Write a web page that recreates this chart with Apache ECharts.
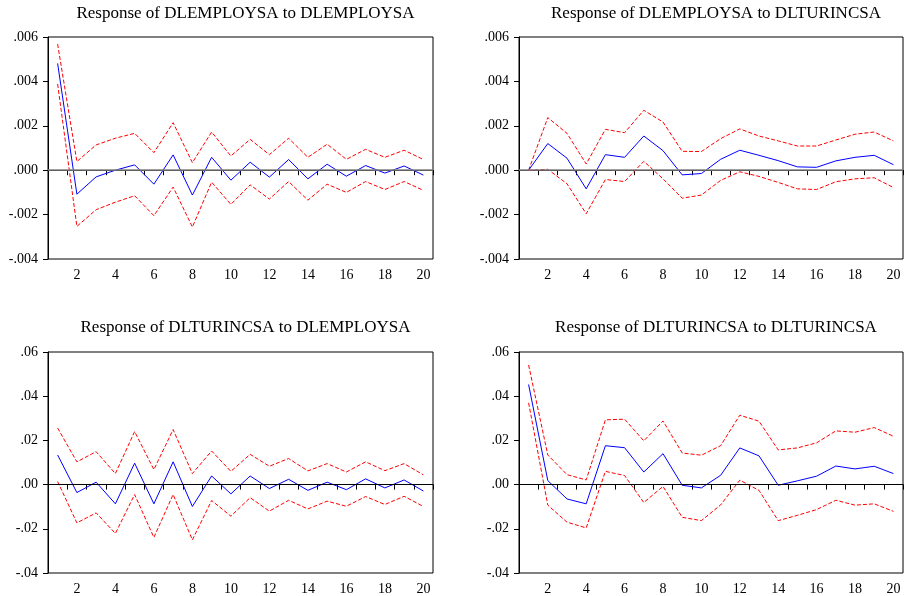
<!DOCTYPE html>
<html><head><meta charset="utf-8">
<script src="https://cdn.jsdelivr.net/npm/echarts@6/dist/echarts.min.js"></script>
<style>html,body{margin:0;padding:0;background:#fff}#c{width:905px;height:596px}</style>
</head><body><div id="c"></div>
<script>
const periods = ['1','2','3','4','5','6','7','8','9','10','11','12','13','14','15','16','17','18','19','20'];
const titles = ['Response of DLEMPLOYSA to DLEMPLOYSA','Response of DLEMPLOYSA to DLTURINCSA','Response of DLTURINCSA to DLEMPLOYSA','Response of DLTURINCSA to DLTURINCSA'];

// Panel 1: DLEMPLOYSA to DLEMPLOYSA
const p1Resp  = [0.00481,-0.00108,-0.00030,0.00000,0.00024,-0.00063,0.00069,-0.00112,0.00058,-0.00045,0.00036,-0.00031,0.00048,-0.00039,0.00027,-0.00027,0.00021,-0.00013,0.00019,-0.00022];
const p1Upper = [0.00568,0.00039,0.00114,0.00144,0.00166,0.00079,0.00214,0.00034,0.00172,0.00064,0.00139,0.00070,0.00144,0.00058,0.00117,0.00049,0.00094,0.00058,0.00090,0.00048];
const p1Lower = [0.00388,-0.00253,-0.00178,-0.00144,-0.00115,-0.00205,-0.00076,-0.00256,-0.00054,-0.00154,-0.00066,-0.00130,-0.00051,-0.00135,-0.00063,-0.00100,-0.00051,-0.00087,-0.00051,-0.00091];

// Panel 2: DLEMPLOYSA to DLTURINCSA
const p2Resp  = [0.00000,0.00120,0.00054,-0.00084,0.00070,0.00058,0.00154,0.00088,-0.00021,-0.00015,0.00049,0.00090,0.00067,0.00043,0.00015,0.00013,0.00042,0.00058,0.00067,0.00025];
const p2Upper = [0.00000,0.00237,0.00166,0.00028,0.00184,0.00169,0.00270,0.00217,0.00085,0.00084,0.00142,0.00186,0.00154,0.00132,0.00109,0.00109,0.00136,0.00162,0.00172,0.00132];
const p2Lower = [0.00000,0.00004,-0.00061,-0.00196,-0.00042,-0.00051,0.00040,-0.00039,-0.00126,-0.00112,-0.00046,-0.00007,-0.00028,-0.00055,-0.00084,-0.00087,-0.00052,-0.00039,-0.00034,-0.00078];

// Panel 3: DLTURINCSA to DLEMPLOYSA
const p3Resp  = [0.0134,-0.0036,0.0011,-0.0087,0.0097,-0.0087,0.0103,-0.0099,0.0039,-0.0042,0.0039,-0.0018,0.0024,-0.0026,0.0011,-0.0023,0.0026,-0.0015,0.0021,-0.0029];
const p3Upper = [0.0256,0.0103,0.0149,0.0050,0.0240,0.0068,0.0249,0.0050,0.0152,0.0060,0.0137,0.0083,0.0118,0.0062,0.0095,0.0057,0.0103,0.0063,0.0095,0.0044];
const p3Lower = [0.0014,-0.0173,-0.0128,-0.0221,-0.0045,-0.0239,-0.0045,-0.0250,-0.0072,-0.0143,-0.0059,-0.0120,-0.0071,-0.0110,-0.0075,-0.0098,-0.0054,-0.0090,-0.0053,-0.0099];

// Panel 4: DLTURINCSA to DLTURINCSA
const p4Resp  = [0.0453,0.0018,-0.0065,-0.0087,0.0176,0.0167,0.0057,0.0140,-0.0003,-0.0015,0.0042,0.0166,0.0130,-0.0003,0.0017,0.0038,0.0084,0.0071,0.0083,0.0050];
const p4Upper = [0.0541,0.0134,0.0045,0.0021,0.0293,0.0296,0.0198,0.0288,0.0143,0.0133,0.0176,0.0314,0.0287,0.0157,0.0166,0.0189,0.0243,0.0237,0.0258,0.0219];
const p4Lower = [0.0370,-0.0093,-0.0170,-0.0196,0.0060,0.0041,-0.0081,-0.0008,-0.0148,-0.0163,-0.0092,0.0020,-0.0026,-0.0163,-0.0139,-0.0113,-0.0071,-0.0093,-0.0087,-0.0121];

const panels = [
  {resp:p1Resp, up:p1Upper, lo:p1Lower, min:-0.004, max:0.006, step:0.002, dec:3, zero:'#808080', zw:1.5},
  {resp:p2Resp, up:p2Upper, lo:p2Lower, min:-0.004, max:0.006, step:0.002, dec:3, zero:'#808080', zw:1.5},
  {resp:p3Resp, up:p3Upper, lo:p3Lower, min:-0.04, max:0.06, step:0.02, dec:2, zero:'#000000', zw:1},
  {resp:p4Resp, up:p4Upper, lo:p4Lower, min:-0.04, max:0.06, step:0.02, dec:2, zero:'#000000', zw:1}
];
const grids = [
  {left:48, top:37, width:385, height:222},
  {left:519, top:37, width:384, height:222},
  {left:48, top:352, width:385, height:221},
  {left:519, top:352, width:384, height:221}
];
const titleY = [0, 314];
const FONT = '"Liberation Serif", "Times New Roman", serif';

const option = {
  animation:false,
  backgroundColor:'#ffffff',
  title: titles.map((t,i)=>({
    text:t,
    left: grids[i].left + grids[i].width/2,
    top: titleY[Math.floor(i/2)],
    textAlign:'center',
    textStyle:{fontFamily:FONT, fontSize:17, fontWeight:'normal', color:'#000'}
  })),
  grid: grids.map(g=>Object.assign({show:true, borderColor:'#000', borderWidth:1, backgroundColor:'transparent'}, g)),
  xAxis: grids.map((g,i)=>({
    type:'category', gridIndex:i, data:periods, boundaryGap:true,
    axisLine:{lineStyle:{color:'#000', width:1}},
    axisTick:{show:true, interval:0, length:5, lineStyle:{color:'#000'}},
    axisLabel:{interval:(idx)=>idx%2===1, fontFamily:FONT, fontSize:14, color:'#000', margin:9},
    splitLine:{show:false}
  })),
  yAxis: panels.map((p,i)=>({
    type:'value', gridIndex:i, min:p.min, max:p.max, interval:p.step,
    axisLine:{show:true, lineStyle:{color:'#000', width:1}},
    axisTick:{show:true, length:5, lineStyle:{color:'#000'}},
    axisLabel:{fontFamily:FONT, fontSize:14, color:'#000', margin:10,
      formatter:(v)=>{ let s = Math.abs(v) < 1e-12 ? (0).toFixed(p.dec) : v.toFixed(p.dec); return s.replace(/^(-?)0\./,'$1.'); }},
    splitLine:{show:false}
  })),
  series: []
};
panels.forEach((p,i)=>{
  option.series.push({
    type:'line', xAxisIndex:i, yAxisIndex:i, data:p.up, symbol:'none',
    lineStyle:{color:'#ff0000', width:1, type:[4,2]}, z:3,
    markLine:{silent:true, symbol:'none', label:{show:false},
      lineStyle:{color:p.zero, width:p.zw, type:'solid'}, data:[{yAxis:0}]}
  });
  option.series.push({
    type:'line', xAxisIndex:i, yAxisIndex:i, data:p.lo, symbol:'none',
    lineStyle:{color:'#ff0000', width:1, type:[4,2]}, z:3
  });
  option.series.push({
    type:'line', xAxisIndex:i, yAxisIndex:i, data:p.resp, symbol:'none',
    lineStyle:{color:'#0000ff', width:1}, z:4
  });
});
const chart = echarts.init(document.getElementById('c'), null, {renderer:'canvas'});
chart.setOption(option);
</script>
</body></html>
